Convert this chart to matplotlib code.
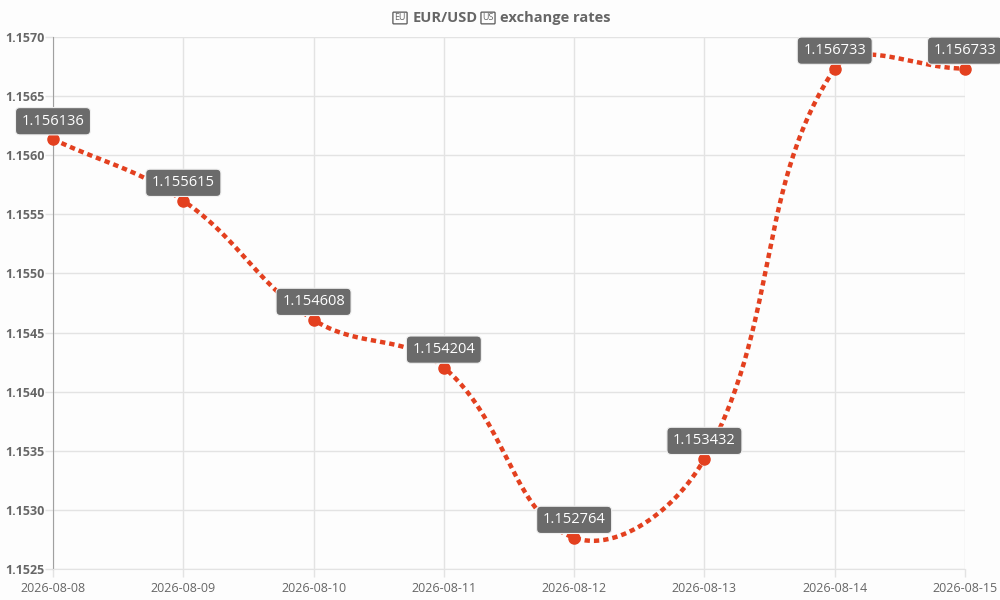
import numpy as np
import matplotlib.pyplot as plt

# Data
dates = ["2026-08-08", "2026-08-09", "2026-08-10", "2026-08-11",
         "2026-08-12", "2026-08-13", "2026-08-14", "2026-08-15"]
rates = [1.156136, 1.155615, 1.154608, 1.154204,
         1.152764, 1.153432, 1.156733, 1.156733]
y_ticks = [1.1525, 1.1530, 1.1535, 1.1540, 1.1545, 1.1550, 1.1555, 1.1560, 1.1565, 1.1570]

LINE_COLOR = "#e3401f"
TEXT_COLOR = "#666666"
GRID_COLOR = "#e3e3e3"
TENSION = 0.4

plt.rcParams['font.family'] = ['Open Sans', 'DejaVu Sans']


def spline_controls(px, py, t):
    # Chart.js style control points, computed in pixel space
    n = len(px)
    c1 = np.zeros((n, 2))
    c2 = np.zeros((n, 2))
    for i in range(n):
        prev = np.array([px[max(i - 1, 0)], py[max(i - 1, 0)]])
        cur = np.array([px[i], py[i]])
        nxt = np.array([px[min(i + 1, n - 1)], py[min(i + 1, n - 1)]])
        d01 = np.hypot(*(cur - prev))
        d12 = np.hypot(*(nxt - cur))
        tot = d01 + d12
        s01 = d01 / tot if tot else 0
        s12 = d12 / tot if tot else 0
        c1[i] = cur - t * s01 * (nxt - prev)
        c2[i] = cur + t * s12 * (nxt - prev)
    return c1, c2


fig = plt.figure(figsize=(10, 6), dpi=100)
fig.patch.set_facecolor("#fdfdfd")
ax = fig.add_axes([0.053, 0.0517, 0.912, 0.8866])
ax.set_facecolor("#fdfdfd")

x = np.arange(len(dates))
ax.set_xlim(0, len(dates) - 1)
ax.set_ylim(y_ticks[0], y_ticks[-1])
ax.set_xticks(x)
ax.set_xticklabels(dates, fontsize=9)
ax.set_yticks(y_ticks)
ax.set_yticklabels([f"{v:.4f}" for v in y_ticks], fontweight="bold", fontsize=9)
ax.tick_params(axis="both", colors=GRID_COLOR, labelcolor=TEXT_COLOR,
               length=6, width=1)
ax.tick_params(axis="y", pad=0)
ax.grid(True, color=GRID_COLOR, linewidth=1)
ax.set_axisbelow(True)
for side in ["top", "right"]:
    ax.spines[side].set_visible(False)
ax.spines["left"].set_color("#a0a0a0")
ax.spines["bottom"].set_color(GRID_COLOR)

# smooth curve: build bezier segments in pixels, map back to data coords
fig.canvas.draw()
pts = ax.transData.transform(np.column_stack([x, rates]))
c1, c2 = spline_controls(pts[:, 0], pts[:, 1], TENSION)
bb = ax.bbox
c1[:, 1] = np.clip(c1[:, 1], bb.y0, bb.y1)
c2[:, 1] = np.clip(c2[:, 1], bb.y0, bb.y1)
s = np.linspace(0, 1, 60)[:, None]
curve = []
for i in range(len(pts) - 1):
    p0, p1, p2, p3 = pts[i], c2[i], c1[i + 1], pts[i + 1]
    seg = ((1 - s) ** 3) * p0 + 3 * ((1 - s) ** 2) * s * p1 + 3 * (1 - s) * s ** 2 * p2 + s ** 3 * p3
    curve.append(seg if i == 0 else seg[1:])
curve = ax.transData.inverted().transform(np.vstack(curve))

ax.plot(curve[:, 0], curve[:, 1], color=LINE_COLOR, linewidth=3.2,
        linestyle=(0, (1.2, 0.9)), solid_capstyle="butt", clip_on=False, zorder=3)
ax.plot(x, rates, "o", color=LINE_COLOR, markersize=8, clip_on=False, zorder=4)

for xi, yi in zip(x, rates):
    ax.annotate(f"{yi:.6f}", (xi, yi), xytext=(0, 7.5), textcoords="offset points",
                ha="center", va="bottom", color="white", fontsize=10.5,
                bbox=dict(boxstyle="round,pad=0.42,rounding_size=0.3",
                          facecolor="#6b6b6b", edgecolor="#f0f0f0", linewidth=0.8),
                zorder=5, annotation_clip=False)

# title: flag emoji have no glyph in any installed font, drawn as small boxed letters
ty = 1 - 18 / 600
flag_box = dict(boxstyle="round,pad=0.15,rounding_size=0.1", facecolor="none",
                edgecolor=TEXT_COLOR, linewidth=1.0)
fig.text(400 / 1000, ty, "EU", ha="center", va="center", fontsize=6.5,
         color=TEXT_COLOR, bbox=flag_box)
fig.text(413 / 1000, ty, "EUR/USD", ha="left", va="center", fontsize=10.5,
         fontweight="bold", color=TEXT_COLOR)
fig.text(488 / 1000, ty, "US", ha="center", va="center", fontsize=6.5,
         color=TEXT_COLOR, bbox=flag_box)
fig.text(500 / 1000, ty, "exchange rates", ha="left", va="center", fontsize=10.5,
         fontweight="bold", color=TEXT_COLOR)

fig.savefig("out.png", dpi=100, facecolor=fig.get_facecolor())
